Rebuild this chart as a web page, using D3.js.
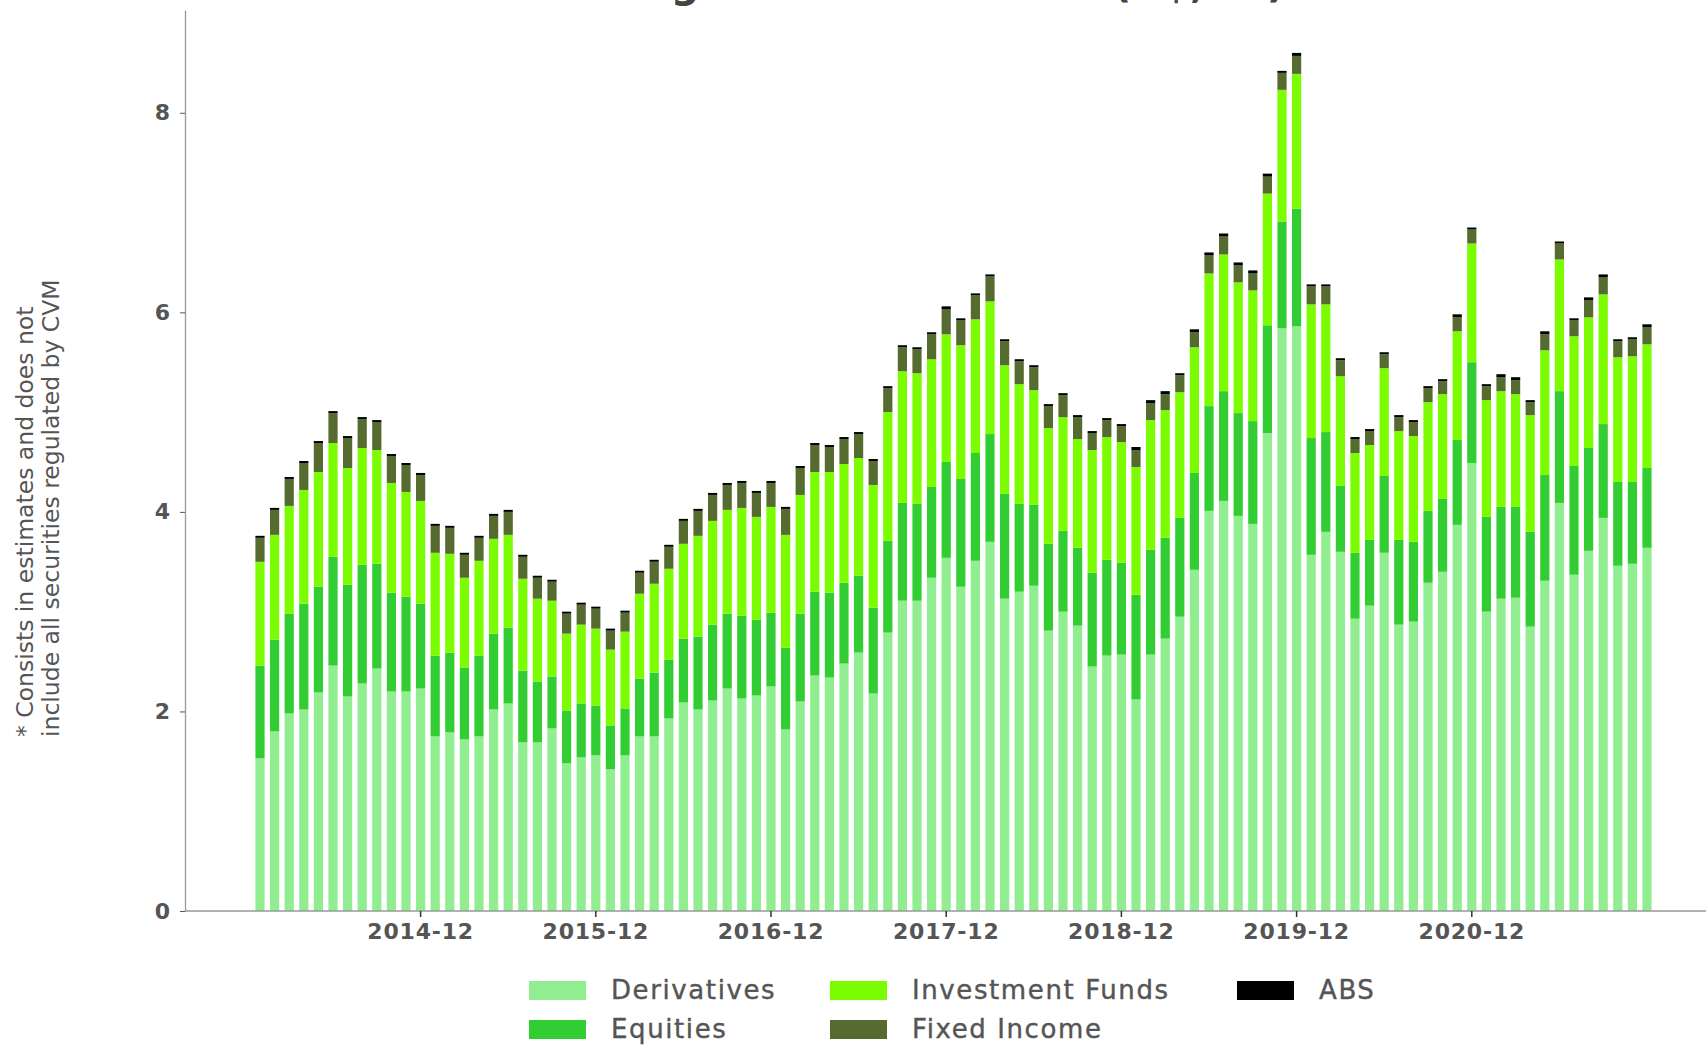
<!DOCTYPE html>
<html>
<head>
<meta charset="utf-8">
<script src="https://cdn.jsdelivr.net/npm/d3@7"></script>
<style>
  body { margin: 0; background: #fff; }
  svg { display: block; }
  .tick text { fill: #555; }
</style>
</head>
<body>
<div id="chart"></div>
<script>
// Monthly stock, 2014-01 .. 2021-12 (R$ tn)
var startMonth = new Date(Date.UTC(2014, 0, 1));
var monthCount = 96;

var tickLabels = ["2014-12", "2015-12", "2016-12", "2017-12", "2018-12", "2019-12", "2020-12"];
var yTicks = [0, 2, 4, 6, 8];

var seriesNames = ["Derivatives", "Equities", "Investment Funds", "Fixed Income", "ABS"];
var seriesColors = ["#90ee90", "#32cd32", "#7cfc00", "#556b2f", "#000000"];

var derivatives = [
  1.53, 1.80, 1.98, 2.02, 2.19, 2.46, 2.15, 2.28, 2.43, 2.20, 2.20, 2.23,
  1.75, 1.79, 1.72, 1.75, 2.02, 2.08, 1.69, 1.69, 1.83, 1.48, 1.54, 1.56,
  1.42, 1.56, 1.75, 1.75, 1.93, 2.09, 2.02, 2.11, 2.23, 2.13, 2.16, 2.25,
  1.82, 2.10, 2.36, 2.34, 2.48, 2.59, 2.18, 2.79, 3.11, 3.11, 3.34, 3.54,
  3.25, 3.51, 3.70, 3.13, 3.20, 3.26, 2.81, 3.00, 2.86, 2.45, 2.56, 2.57,
  2.12, 2.57, 2.73, 2.95, 3.42, 4.01, 4.11, 3.96, 3.88, 4.79, 5.84, 5.86,
  3.57, 3.80, 3.60, 2.93, 3.06, 3.59, 2.87, 2.90, 3.29, 3.40, 3.87, 4.49,
  3.00, 3.13, 3.14, 2.85, 3.31, 4.09, 3.37, 3.61, 3.94, 3.46, 3.48, 3.64
];
var equities = [
  0.93, 0.92, 1.00, 1.06, 1.06, 1.09, 1.12, 1.19, 1.05, 0.99, 0.95, 0.85,
  0.81, 0.80, 0.72, 0.81, 0.76, 0.76, 0.72, 0.61, 0.52, 0.53, 0.54, 0.50,
  0.44, 0.47, 0.58, 0.64, 0.59, 0.64, 0.73, 0.76, 0.75, 0.83, 0.76, 0.74,
  0.82, 0.88, 0.84, 0.85, 0.81, 0.77, 0.86, 0.92, 0.98, 0.97, 0.91, 0.96,
  1.08, 1.08, 1.08, 1.05, 0.88, 0.81, 0.87, 0.81, 0.78, 0.94, 0.96, 0.92,
  1.05, 1.05, 1.01, 0.99, 0.97, 1.05, 1.10, 1.03, 1.03, 1.08, 1.07, 1.18,
  1.17, 1.00, 0.66, 0.66, 0.66, 0.77, 0.85, 0.80, 0.72, 0.73, 0.85, 1.01,
  0.95, 0.92, 0.91, 0.95, 1.06, 1.12, 1.09, 1.03, 0.94, 0.84, 0.82, 0.80
];
var investmentFunds = [
  1.04, 1.05, 1.08, 1.14, 1.15, 1.14, 1.17, 1.17, 1.14, 1.10, 1.05, 1.03,
  1.03, 0.99, 0.90, 0.95, 0.95, 0.93, 0.92, 0.83, 0.76, 0.77, 0.79, 0.77,
  0.76, 0.77, 0.85, 0.89, 0.91, 0.95, 1.01, 1.04, 1.04, 1.08, 1.03, 1.06,
  1.13, 1.19, 1.20, 1.21, 1.19, 1.18, 1.23, 1.29, 1.32, 1.31, 1.28, 1.28,
  1.34, 1.34, 1.33, 1.29, 1.20, 1.15, 1.16, 1.14, 1.09, 1.23, 1.23, 1.21,
  1.28, 1.30, 1.28, 1.26, 1.26, 1.33, 1.37, 1.31, 1.31, 1.32, 1.32, 1.35,
  1.34, 1.28, 1.10, 1.00, 0.95, 1.08, 1.09, 1.06, 1.09, 1.05, 1.09, 1.19,
  1.17, 1.16, 1.13, 1.17, 1.25, 1.32, 1.30, 1.31, 1.30, 1.25, 1.26, 1.24
];
var fixedIncome = [
  0.24, 0.25, 0.27, 0.27, 0.29, 0.30, 0.30, 0.29, 0.28, 0.27, 0.27, 0.26,
  0.27, 0.26, 0.23, 0.23, 0.23, 0.23, 0.22, 0.21, 0.19, 0.20, 0.20, 0.20,
  0.19, 0.19, 0.21, 0.22, 0.22, 0.23, 0.25, 0.26, 0.25, 0.25, 0.24, 0.24,
  0.26, 0.27, 0.27, 0.25, 0.25, 0.24, 0.24, 0.24, 0.24, 0.24, 0.25, 0.25,
  0.25, 0.24, 0.25, 0.24, 0.23, 0.23, 0.22, 0.22, 0.22, 0.17, 0.17, 0.16,
  0.17, 0.17, 0.16, 0.17, 0.15, 0.18, 0.18, 0.17, 0.17, 0.17, 0.17, 0.18,
  0.18, 0.18, 0.16, 0.14, 0.14, 0.14, 0.14, 0.14, 0.14, 0.13, 0.14, 0.14,
  0.14, 0.14, 0.14, 0.13, 0.16, 0.16, 0.16, 0.17, 0.17, 0.16, 0.17, 0.17
];
var abs = [
  0.02, 0.02, 0.02, 0.02, 0.02, 0.02, 0.02, 0.02, 0.02, 0.02, 0.02, 0.02,
  0.02, 0.02, 0.02, 0.02, 0.02, 0.02, 0.02, 0.02, 0.02, 0.02, 0.02, 0.02,
  0.02, 0.02, 0.02, 0.02, 0.02, 0.02, 0.02, 0.02, 0.02, 0.02, 0.02, 0.02,
  0.02, 0.02, 0.02, 0.02, 0.02, 0.02, 0.02, 0.02, 0.02, 0.02, 0.02, 0.03,
  0.02, 0.02, 0.02, 0.02, 0.02, 0.02, 0.02, 0.02, 0.02, 0.02, 0.02, 0.02,
  0.03, 0.03, 0.03, 0.02, 0.03, 0.03, 0.03, 0.03, 0.03, 0.03, 0.02, 0.03,
  0.02, 0.02, 0.02, 0.02, 0.02, 0.02, 0.02, 0.02, 0.02, 0.02, 0.03, 0.02,
  0.02, 0.03, 0.03, 0.02, 0.03, 0.02, 0.02, 0.03, 0.03, 0.02, 0.02, 0.03
];

var footnote = ["* Consists in estimates and does not", "include all securities regulated by CVM"];
var title = "Total Outstanding Securities Stock* (R$, tn)";

function stackedBars(id) {
  var W = 1706, H = 1045;
  var margin = {top: 10, right: 0, bottom: 134, left: 185},
      width = W - margin.left - margin.right,
      height = H - margin.top - margin.bottom;

  var fmt = d3.utcFormat("%Y-%m");
  var months = d3.utcMonth.range(startMonth, d3.utcMonth.offset(startMonth, monthCount)).map(fmt);
  var columns = [derivatives, equities, investmentFunds, fixedIncome, abs];

  // one row per month, one key per series
  var table = months.map(function (m, i) {
    var row = {month: m};
    seriesNames.forEach(function (k, j) { row[k] = columns[j][i]; });
    return row;
  });

  var xScale = d3.scaleBand()
      .domain(months)
      .range([67.7, 1469.3])
      .paddingInner(0.37)
      .paddingOuter(0.185);
  var yScale = d3.scaleLinear().domain([0, 9.03]).range([height, 0]);
  var color = d3.scaleOrdinal().domain(seriesNames).range(seriesColors);

  var svg = d3.select("#" + id).append("svg")
      .attr("width", W)
      .attr("height", H);

  // title sits mostly above the top edge, as in the source image
  svg.append("text")
     .attr("x", 1285)
     .attr("y", -3)
     .style("text-anchor", "end")
     .style("font-family", "DejaVu Sans")
     .style("font-weight", "bold")
     .style("font-size", "40px")
     .style("fill", "#444")
     .text(title);

  var g = svg.append("g")
     .attr("transform", "translate(" + margin.left + "," + margin.top + ")");

  var stacked = d3.stack().keys(seriesNames)(table);

  g.selectAll("g.layer")
   .data(stacked)
   .enter().append("g")
     .attr("class", "layer")
     .attr("fill", function (d) { return color(d.key); })
   .selectAll("rect")
   .data(function (d) { return d; })
   .enter().append("rect")
     .attr("x", function (d) { return xScale(d.data.month); })
     .attr("y", function (d) { return yScale(d[1]); })
     .attr("width", xScale.bandwidth())
     .attr("height", function (d) { return yScale(d[0]) - yScale(d[1]); });

  // x axis: baseline spans the whole plot width
  g.append("line")
   .attr("x1", 0).attr("x2", width)
   .attr("y1", height).attr("y2", height)
   .attr("stroke", "#999")
   .attr("stroke-width", 1.3);

  var xAxis = d3.axisBottom(xScale)
      .tickValues(tickLabels)
      .tickSize(6)
      .tickSizeOuter(0)
      .tickPadding(6);
  var xg = g.append("g")
     .attr("transform", "translate(0," + height + ")")
     .call(xAxis);
  xg.select(".domain").remove();
  xg.selectAll(".tick line").attr("stroke", "#333").attr("stroke-width", 1.5);
  xg.selectAll(".tick text")
    .style("font-family", "DejaVu Sans")
    .style("font-weight", "bold")
    .style("font-size", "22px")
    .style("letter-spacing", "0.8px");

  var yAxis = d3.axisLeft(yScale)
      .tickValues(yTicks)
      .tickSize(5)
      .tickSizeOuter(0)
      .tickPadding(10)
      .tickFormat(d3.format("d"));
  var yg = g.append("g").call(yAxis);
  yg.select(".domain").attr("stroke", "#999").attr("stroke-width", 1.3);
  yg.selectAll(".tick line").attr("stroke", "#555");
  yg.selectAll(".tick text")
    .style("font-family", "DejaVu Sans")
    .style("font-weight", "bold")
    .style("font-size", "22px");

  // rotated footnote on the left
  svg.selectAll("text.note")
     .data(footnote)
     .enter().append("text")
       .attr("class", "note")
       .attr("transform", function (d, i) { return "translate(" + (33 + i * 26) + ",737) rotate(-90)"; })
       .style("font-family", "DejaVu Sans")
       .style("font-size", "23.5px")
       .style("fill", "#555")
       .text(function (d) { return d; });

  // legend: three columns, filled top to bottom
  var legendCols = [529, 830, 1237], legendRows = [990, 1029];
  var legend = svg.selectAll("g.legend")
     .data(seriesNames)
     .enter().append("g")
       .attr("class", "legend")
       .attr("transform", function (d, i) {
         return "translate(" + legendCols[Math.floor(i / 2)] + "," + legendRows[i % 2] + ")";
       });
  legend.append("rect")
     .attr("x", 0).attr("y", -9)
     .attr("width", 57).attr("height", 19)
     .attr("fill", function (d) { return color(d); });
  legend.append("text")
     .attr("x", 82)
     .attr("dy", "0.36em")
     .style("font-family", "DejaVu Sans")
     .style("font-size", "26px")
     .style("letter-spacing", "1.6px")
     .style("fill", "#555")
     .style("stroke", "#555")
     .style("stroke-width", "0.4px")
     .text(function (d) { return d; });
}

stackedBars("chart");
</script>
</body>
</html>
